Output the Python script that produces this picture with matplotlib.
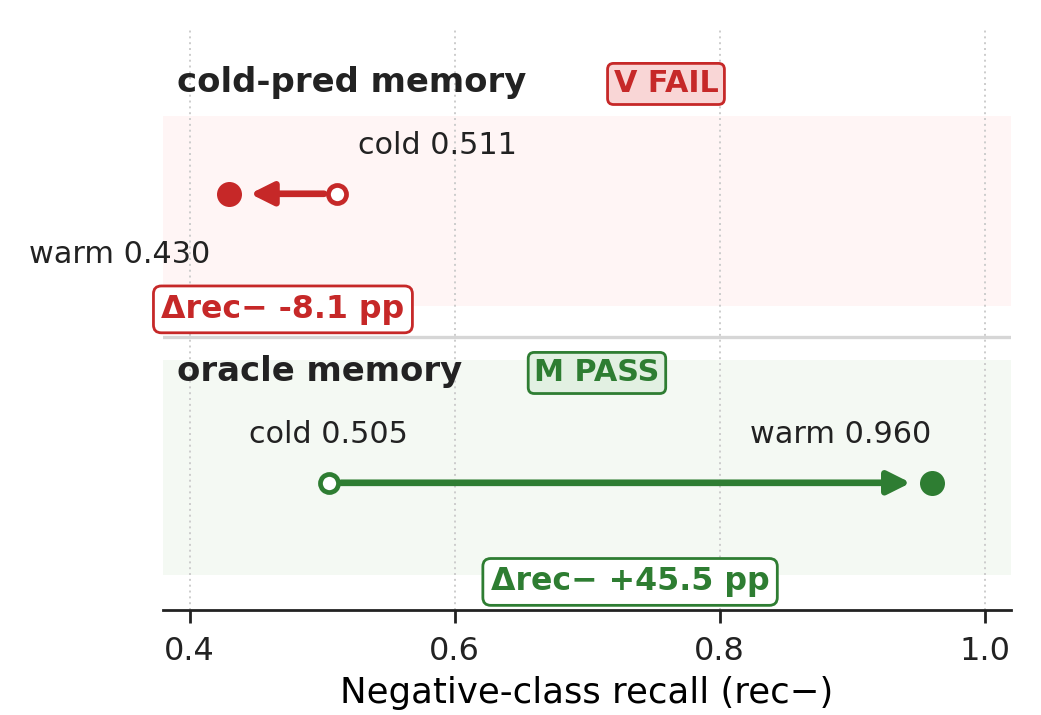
import matplotlib
matplotlib.use("Agg")
import matplotlib.pyplot as plt

# data
rows = ["cold-pred memory", "oracle memory"]
row_y = [1, 0]
cold = [0.511, 0.505]
warm = [0.430, 0.960]
status = ["V FAIL", "M PASS"]
colors = ["#c62828", "#2e7d32"]
band_colors = ["#fff5f5", "#f4f9f3"]
status_fill = ["#f9d6d6", "#e2f0e2"]

TEXT = "#222222"

fig = plt.figure(figsize=(5.205, 3.575), dpi=200)
ax = fig.add_axes([0.1566, 0.1469, 0.8146, 0.8125])
ax.set_xlim(0.38, 1.02)
ax.set_ylim(-0.44, 1.57)

# background bands + separator
ax.axhspan(0.61, 1.27, color=band_colors[0], zorder=0, lw=0)
ax.axhspan(-0.32, 0.425, color=band_colors[1], zorder=0, lw=0)
ax.axhline(0.505, color="#d6d6d6", lw=1.2, zorder=1)

for x in [0.4, 0.6, 0.8, 1.0]:
    ax.axvline(x, color="#cccccc", lw=0.7, ls=(0, (1, 2)), zorder=0.5)

for i, y in enumerate(row_y):
    c = colors[i]
    ax.annotate("", xy=(warm[i], y), xytext=(cold[i], y),
                arrowprops=dict(arrowstyle="-|>", color=c, lw=2.4,
                                shrinkA=4.5, shrinkB=7.5, mutation_scale=17,
                                capstyle="round", joinstyle="round"), zorder=3)
    ax.plot(cold[i], y, "o", ms=6.5, mfc="white", mec=c, mew=1.7, zorder=4)
    ax.plot(warm[i], y, "o", ms=8, color=c, zorder=4)

    # row title + verdict
    ax.text(0.3906, y + 0.385, rows[i], fontsize=12.2, fontweight="bold",
            color=TEXT, va="center", ha="left")
    ax.text([0.7596, 0.7075][i], y + 0.38, status[i], fontsize=10.9,
            fontweight="bold", color=c, va="center", ha="center",
            bbox=dict(boxstyle="round,pad=0.2", fc=status_fill[i], ec=c, lw=1.0))

    # delta box at midpoint
    d = (warm[i] - cold[i]) * 100
    mid = (warm[i] + cold[i]) / 2
    ax.text(mid, [0.60, -0.343][i], f"Δrec− {d:+.1f} pp".replace("+-", "-"),
            fontsize=11.4, fontweight="bold", color=c, va="center", ha="center",
            bbox=dict(boxstyle="round,pad=0.25", fc="white", ec=c, lw=1.0))

# point labels
ax.text(0.527, 1.168, f"cold {cold[0]:.3f}", fontsize=10.9, color=TEXT,
        ha="left", va="center")
ax.text(0.416, 0.79, f"warm {warm[0]:.3f}", fontsize=10.9, color=TEXT,
        ha="right", va="center")
ax.text(cold[1], 0.168, f"cold {cold[1]:.3f}", fontsize=10.9, color=TEXT,
        ha="center", va="center")
ax.text(warm[1], 0.168, f"warm {warm[1]:.3f}", fontsize=10.9, color=TEXT,
        ha="right", va="center")

ax.set_xticks([0.4, 0.6, 0.8, 1.0])
ax.set_xticklabels(["0.4", "0.6", "0.8", "1.0"])
ax.set_yticks([])
for s in ["top", "right", "left"]:
    ax.spines[s].set_visible(False)
ax.spines["bottom"].set_color(TEXT)
ax.spines["bottom"].set_linewidth(1.0)
ax.tick_params(axis="x", colors=TEXT, labelsize=11.5, length=4.5, width=1.0, pad=5)
ax.set_xlabel("Negative-class recall (rec−)", fontsize=12.8, labelpad=3)

fig.savefig("out.png", dpi=200)
